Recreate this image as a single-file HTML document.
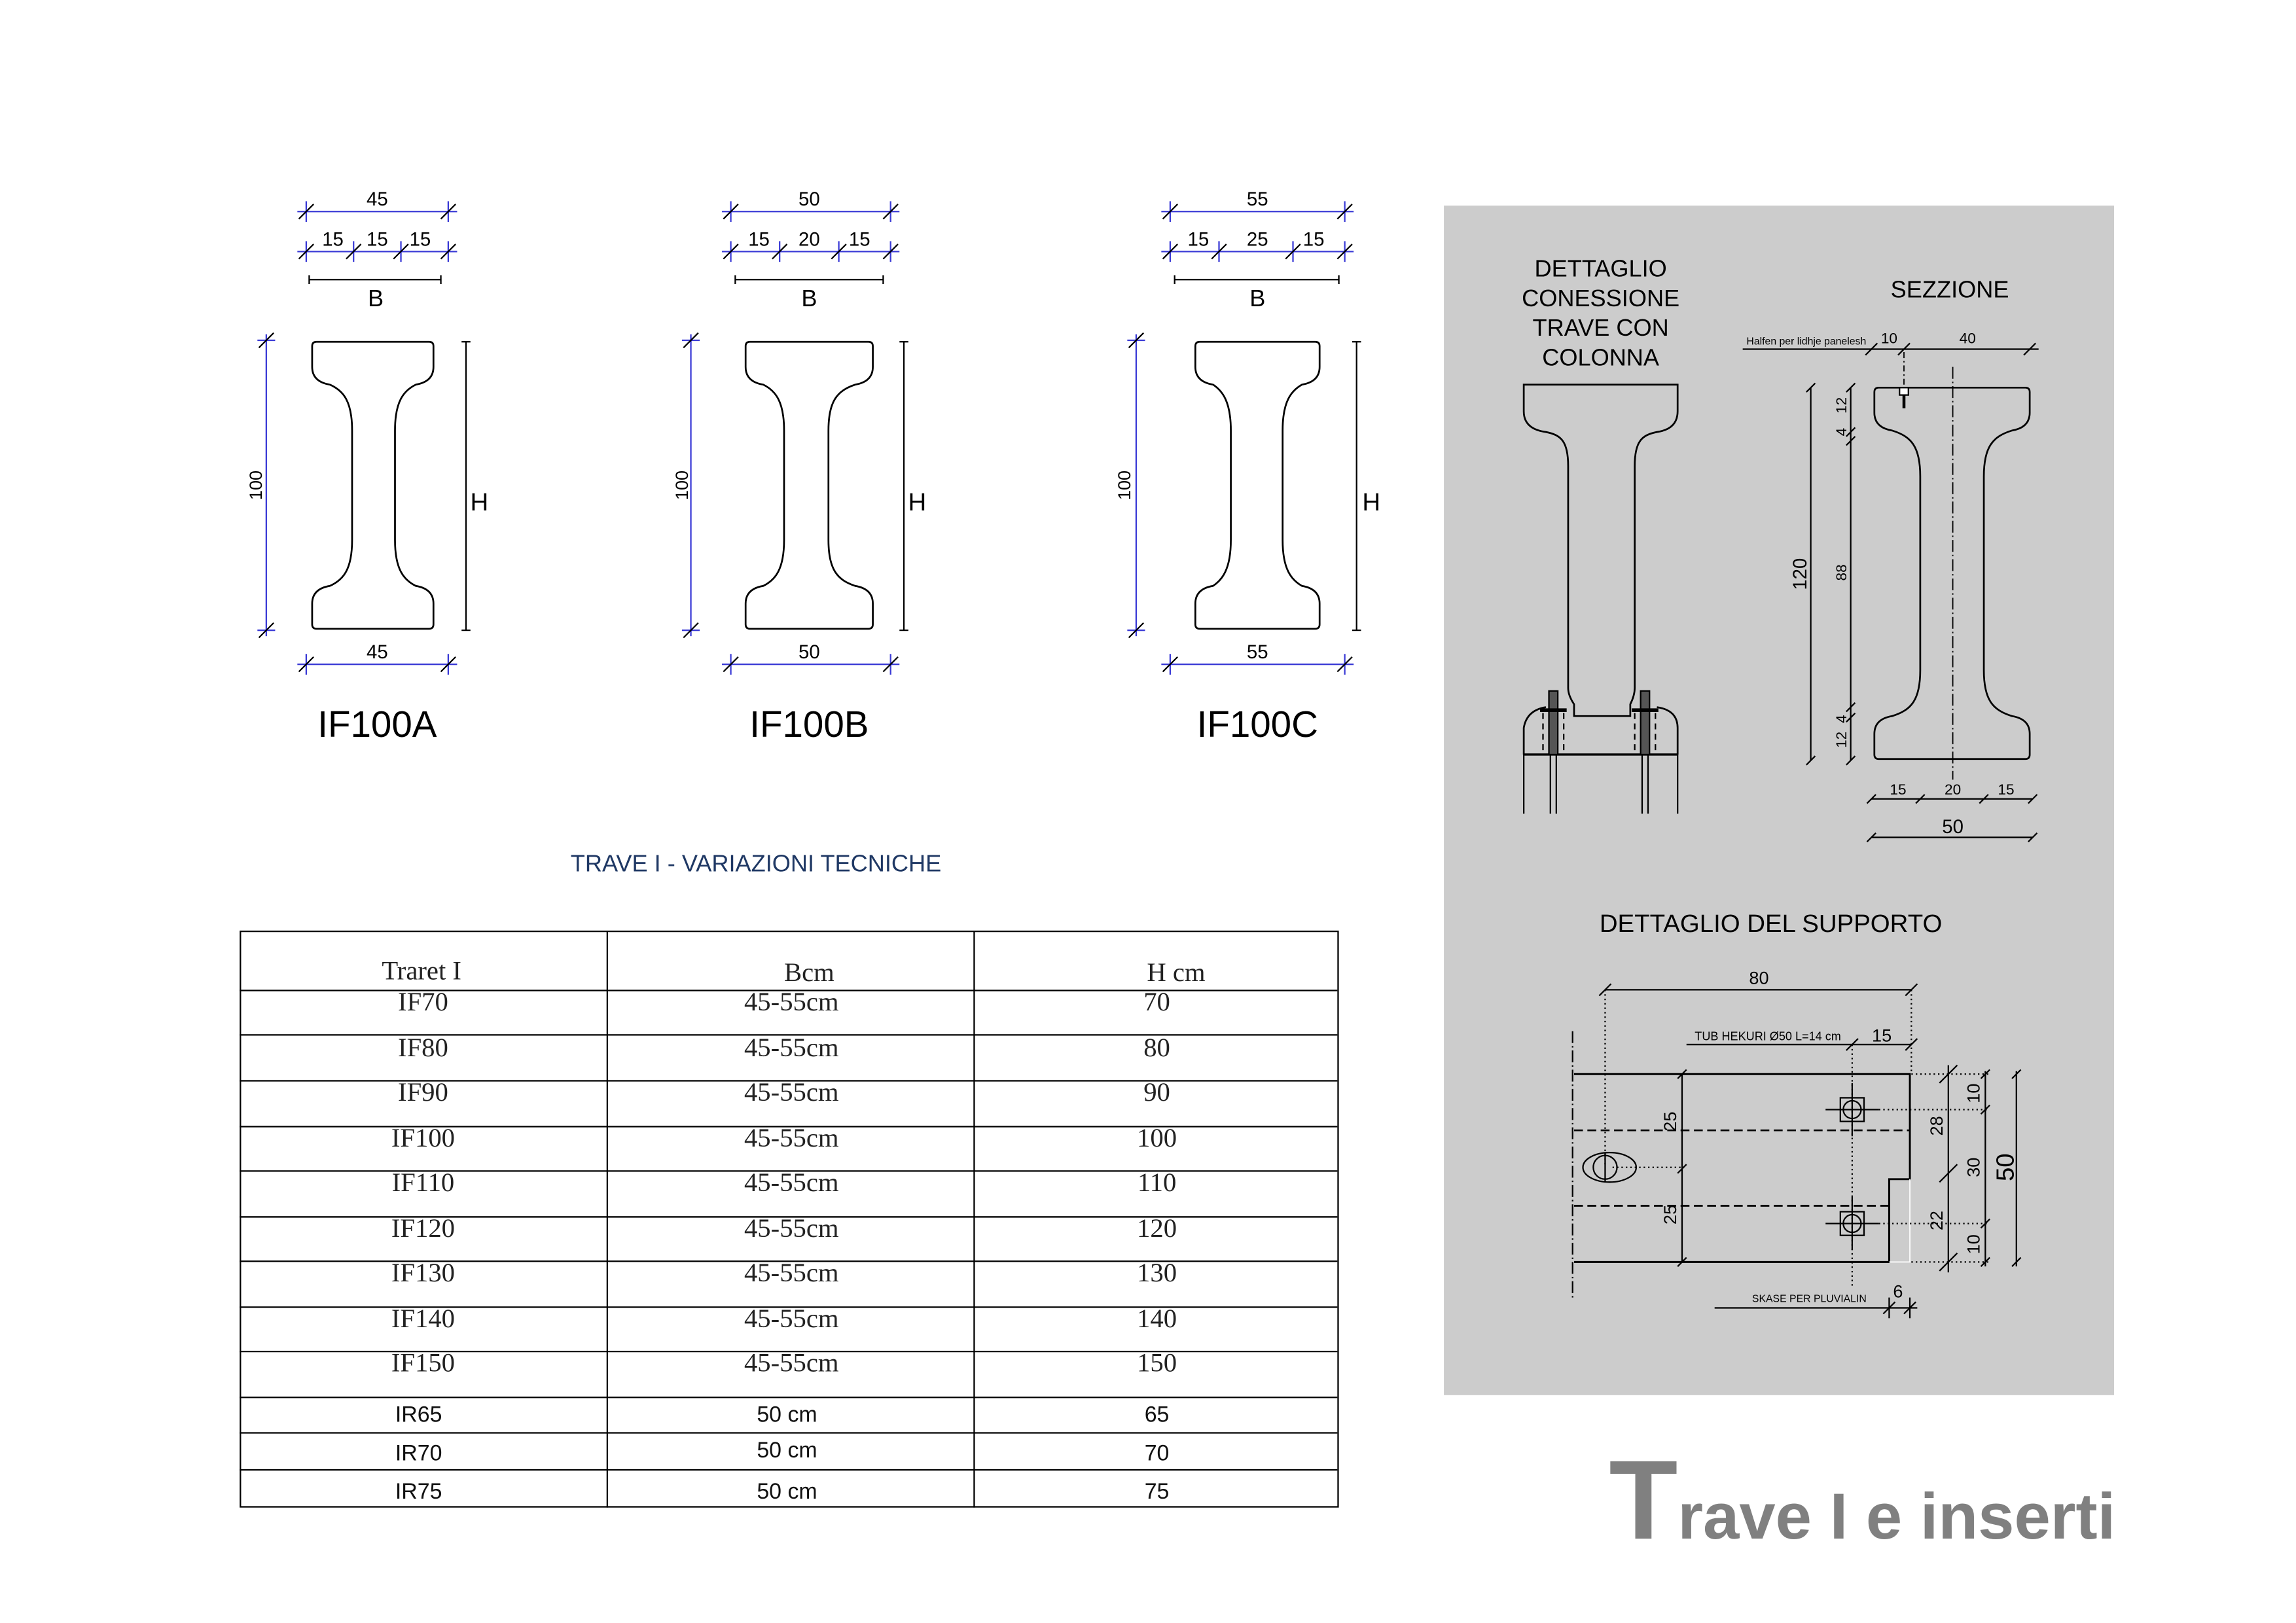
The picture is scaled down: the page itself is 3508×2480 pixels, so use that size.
<!DOCTYPE html>
<html><head><meta charset="utf-8"><style>
html,body{margin:0;padding:0;background:#fff}
svg{display:block}
text{font-family:"Liberation Sans",Arial,sans-serif}
.s text{font-family:"Liberation Serif",serif}
</style></head><body>
<svg id="v" width="3508" height="2480" viewBox="0 0 1552 1097" preserveAspectRatio="none" xmlns="http://www.w3.org/2000/svg">
<rect width="1552" height="1097" fill="#fff"/>
<g id="g" fill="none" stroke="#000" stroke-width="1"></g>

<g font-size="13" fill="#000" text-anchor="middle">
<text x="255" y="139">45</text><text x="225" y="166">15</text><text x="255" y="166">15</text><text x="284" y="166">15</text>
<text x="254" y="207" font-size="16">B</text>
<text x="255" y="445">45</text>
<text x="547" y="139">50</text><text x="513" y="166">15</text><text x="547" y="166">20</text><text x="581" y="166">15</text>
<text x="547" y="207" font-size="16">B</text>
<text x="547" y="445">50</text>
<text x="850" y="139">55</text><text x="810" y="166">15</text><text x="850" y="166">25</text><text x="888" y="166">15</text>
<text x="850" y="207" font-size="16">B</text>
<text x="850" y="445">55</text>
<text transform="translate(177,328) rotate(-90)" font-size="12">100</text>
<text transform="translate(465,328) rotate(-90)" font-size="12">100</text>
<text transform="translate(764,328) rotate(-90)" font-size="12">100</text>
<text x="324" y="345" font-size="17">H</text>
<text x="620" y="345" font-size="17">H</text>
<text x="927" y="345" font-size="17">H</text>
<text x="255" y="498" font-size="25">IF100A</text>
<text x="547" y="498" font-size="25">IF100B</text>
<text x="850" y="498" font-size="25">IF100C</text>
</g>
<text x="511" y="589" font-size="16" fill="#1f3864" text-anchor="middle">TRAVE I - VARIAZIONI TECNICHE</text>

<g stroke="#000" stroke-width="1">
<rect x="162.5" y="629.5" width="742" height="389" fill="none"/>
<line x1="410.5" y1="629" x2="410.5" y2="1019"/><line x1="658.5" y1="629" x2="658.5" y2="1019"/>
<line x1="162" y1="669.5" x2="904" y2="669.5"/><line x1="162" y1="699.5" x2="904" y2="699.5"/>
<line x1="162" y1="730.5" x2="904" y2="730.5"/><line x1="162" y1="761.5" x2="904" y2="761.5"/>
<line x1="162" y1="791.5" x2="904" y2="791.5"/><line x1="162" y1="822.5" x2="904" y2="822.5"/>
<line x1="162" y1="852.5" x2="904" y2="852.5"/><line x1="162" y1="883.5" x2="904" y2="883.5"/>
<line x1="162" y1="913.5" x2="904" y2="913.5"/><line x1="162" y1="944.5" x2="904" y2="944.5"/>
<line x1="162" y1="968.5" x2="904" y2="968.5"/><line x1="162" y1="993.5" x2="904" y2="993.5"/>
</g>
<g class="s" font-size="18" fill="#222" text-anchor="middle">
<text x="285" y="662">Traret I</text><text x="547" y="663">Bcm</text><text x="795" y="663">H cm</text>
<text x="286" y="683">IF70</text><text x="535" y="683">45-55cm</text><text x="782" y="683">70</text>
<text x="286" y="714">IF80</text><text x="535" y="714">45-55cm</text><text x="782" y="714">80</text>
<text x="286" y="744">IF90</text><text x="535" y="744">45-55cm</text><text x="782" y="744">90</text>
<text x="286" y="775">IF100</text><text x="535" y="775">45-55cm</text><text x="782" y="775">100</text>
<text x="286" y="805">IF110</text><text x="535" y="805">45-55cm</text><text x="782" y="805">110</text>
<text x="286" y="836">IF120</text><text x="535" y="836">45-55cm</text><text x="782" y="836">120</text>
<text x="286" y="866">IF130</text><text x="535" y="866">45-55cm</text><text x="782" y="866">130</text>
<text x="286" y="897">IF140</text><text x="535" y="897">45-55cm</text><text x="782" y="897">140</text>
<text x="286" y="927">IF150</text><text x="535" y="927">45-55cm</text><text x="782" y="927">150</text>
</g>
<g font-size="15" fill="#111" text-anchor="middle">
<text x="283" y="961">IR65</text><text x="532" y="961">50 cm</text><text x="782" y="961">65</text>
<text x="283" y="987">IR70</text><text x="532" y="985">50 cm</text><text x="782" y="987">70</text>
<text x="283" y="1013">IR75</text><text x="532" y="1013">50 cm</text><text x="782" y="1013">75</text>
</g>

<rect x="976" y="139" width="453" height="804" fill="#cccccc"/>
<g id="g2" fill="none" stroke="#000" stroke-width="1"></g>
<g font-size="16" fill="#000" text-anchor="middle">
<text x="1082" y="187">DETTAGLIO</text><text x="1082" y="207">CONESSIONE</text>
<text x="1082" y="227">TRAVE CON</text><text x="1082" y="247">COLONNA</text>
<text x="1318" y="201">SEZZIONE</text>
<text x="1197" y="630" font-size="17">DETTAGLIO DEL SUPPORTO</text>
</g>
<g fill="#000" text-anchor="middle" font-size="10">
<text x="1221" y="233" font-size="7">Halfen per lidhje panelesh</text>
<text x="1277" y="232">10</text><text x="1330" y="232">40</text>
<text transform="translate(1221,388) rotate(-90)" font-size="13">120</text>
<text transform="translate(1248,274) rotate(-90)">12</text>
<text transform="translate(1248,292) rotate(-90)">4</text>
<text transform="translate(1248,387) rotate(-90)">88</text>
<text transform="translate(1248,486) rotate(-90)">4</text>
<text transform="translate(1248,500) rotate(-90)">12</text>
<text x="1283" y="537">15</text><text x="1320" y="537">20</text><text x="1356" y="537">15</text>
<text x="1320" y="563" font-size="13">50</text>
<text x="1189" y="665" font-size="12">80</text>
<text x="1195" y="703" font-size="8">TUB HEKURI Ø50 L=14 cm</text>
<text x="1272" y="704" font-size="12">15</text>
<text transform="translate(1133,758) rotate(-90)" font-size="12">25</text>
<text transform="translate(1133,821) rotate(-90)" font-size="12">25</text>
<text transform="translate(1313,761) rotate(-90)" font-size="12">28</text>
<text transform="translate(1313,825) rotate(-90)" font-size="12">22</text>
<text transform="translate(1338,739) rotate(-90)" font-size="12">10</text>
<text transform="translate(1338,789) rotate(-90)" font-size="12">30</text>
<text transform="translate(1338,841) rotate(-90)" font-size="12">10</text>
<text transform="translate(1361,789) rotate(-90)" font-size="17">50</text>
<text x="1223" y="880" font-size="7">SKASE PER PLUVIALIN</text>
<text x="1283" y="877" font-size="12">6</text>
</g>
<text x="1430" y="1040" text-anchor="end" fill="#808080" font-weight="bold" font-size="44"><tspan font-size="76">T</tspan>rave I e inserti</text>

<script>
var NS="http://www.w3.org/2000/svg";
function el(p,t,a){var e=document.createElementNS(NS,t);for(var k in a)e.setAttribute(k,a[k]);document.getElementById(p).appendChild(e);return e;}
function L(p,x1,y1,x2,y2,o){var a={x1:x1,y1:y1,x2:x2,y2:y2};for(var k in o)a[k]=o[k];return el(p,'line',a);}
function P(p,d,o){var a={d:d};for(var k in o)a[k]=o[k];return el(p,'path',a);}
function tick(p,x,y,s){s=s||5;L(p,x-s,y+s,x+s,y-s,{});}
function hdim(p,x1,x2,y,ticks,col){L(p,x1-6,y,x2+6,y,{stroke:col||'#000'});ticks.forEach(function(t){if(col)L(p,t,y-7,t,y+7,{stroke:col});tick(p,t,y);});}
function vdim(p,x,y1,y2,ticks,col){L(p,x,y1-4,x,y2+4,{stroke:col||'#000'});ticks.forEach(function(t){if(col)L(p,x-6,t,x+6,t,{stroke:col});tick(p,x,t);});}
function beam(p,xl,xr,yt,yb,wl,wr){
 var d='M'+(xl+3)+','+yt+' H'+(xr-3)+' Q'+xr+','+yt+' '+xr+','+(yt+3)+' V'+(yt+17)+
 ' Q'+xr+','+(yt+27)+' '+(xr-12)+','+(yt+29)+' C'+(wr+6)+','+(yt+33)+' '+wr+','+(yt+40)+' '+wr+','+(yt+60)+
 ' V'+(yb-60)+' C'+wr+','+(yb-40)+' '+(wr+6)+','+(yb-33)+' '+(xr-12)+','+(yb-29)+' Q'+xr+','+(yb-27)+' '+xr+','+(yb-17)+
 ' V'+(yb-3)+' Q'+xr+','+yb+' '+(xr-3)+','+yb+' H'+(xl+3)+' Q'+xl+','+yb+' '+xl+','+(yb-3)+' V'+(yb-17)+
 ' Q'+xl+','+(yb-27)+' '+(xl+12)+','+(yb-29)+' C'+(wl-6)+','+(yb-33)+' '+wl+','+(yb-40)+' '+wl+','+(yb-60)+
 ' V'+(yt+60)+' C'+wl+','+(yt+40)+' '+(wl-6)+','+(yt+33)+' '+(xl+12)+','+(yt+29)+' Q'+xl+','+(yt+27)+' '+xl+','+(yt+17)+
 ' V'+(yt+3)+' Q'+xl+','+yt+' '+(xl+3)+','+yt+' Z';
 return P(p,d,{'stroke-width':1.2});
}
var B='#3b3bd6';
hdim('g',207,303,143,[207,303],B);hdim('g',207,303,170,[207,239,271,303],B);
L('g',209,189,298,189,{});L('g',209,186,209,192,{});L('g',298,186,298,192,{});
vdim('g',180,230,426,[230,426],B);beam('g',211,293,231,425,238,267);
L('g',315,231,315,426,{});L('g',312,231,318,231,{});L('g',312,426,318,426,{});
hdim('g',207,303,449,[207,303],B);
hdim('g',494,602,143,[494,602],B);hdim('g',494,602,170,[494,527,567,602],B);
L('g',497,189,597,189,{});L('g',497,186,497,192,{});L('g',597,186,597,192,{});
vdim('g',467,230,426,[230,426],B);beam('g',504,590,231,425,530,560);
L('g',611,231,611,426,{});L('g',608,231,614,231,{});L('g',608,426,614,426,{});
hdim('g',494,602,449,[494,602],B);
hdim('g',791,909,143,[791,909],B);hdim('g',791,909,170,[791,824,874,909],B);
L('g',794,189,905,189,{});L('g',794,186,794,192,{});L('g',905,186,905,192,{});
vdim('g',768,230,426,[230,426],B);beam('g',808,892,231,425,832,867);
L('g',917,231,917,426,{});L('g',914,231,920,231,{});L('g',914,426,920,426,{});
hdim('g',791,909,449,[791,909],B);
P('g2','M1030,260 H1134 V278 Q1134,290 1120,292 C1110,294 1105,298 1105,315 V465 Q1105,470 1102,476 V484 H1064 V476 Q1060,470 1060,465 V315 C1060,298 1055,294 1045,292 Q1030,290 1030,278 Z',{'stroke-width':1.2});
P('g2','M1030,510 V492 Q1032,480 1045,478 M1120,478 Q1134,480 1134,492 V510',{'stroke-width':1.2});
L('g2',1030,510,1134,510,{'stroke-width':1.5});
L('g2',1030,510,1030,550,{});L('g2',1134,510,1134,550,{});
[1050,1112].forEach(function(x){
 el('g2','rect',{x:x-3,y:467,width:6,height:43,fill:'#555'});
 L('g2',x-9,480,x+9,480,{'stroke-width':2.5});
 L('g2',x-2,510,x-2,550,{});L('g2',x+2,510,x+2,550,{});
 L('g2',x-7,482,x-7,510,{'stroke-dasharray':'4,3'});L('g2',x+7,482,x+7,510,{'stroke-dasharray':'4,3'});
});
beam('g2',1267,1372,262,513,1298,1341);
L('g2',1320,248,1320,527,{'stroke-dasharray':'8,2,1,2','stroke-width':0.8});
L('g2',1178,236,1378,236,{});[1265,1287,1372].forEach(function(x){tick('g2',x,236,4);});
L('g2',1287,238,1287,272,{'stroke-dasharray':'4,2,1,2','stroke-width':0.8});
el('g2','rect',{x:1284,y:262,width:6,height:5,fill:'#fff',stroke:'#000'});L('g2',1287,267,1287,276,{'stroke-width':2});
L('g2',1224,262,1224,514,{});tick('g2',1224,262,3);tick('g2',1224,514,3);
L('g2',1251,262,1251,514,{});[262,292,298,478,485,514].forEach(function(y){tick('g2',1251,y,3);});
L('g2',1265,540,1374,540,{});[1265,1298,1341,1374].forEach(function(x){tick('g2',x,540,3);});
L('g2',1265,566,1374,566,{});tick('g2',1265,566,3);tick('g2',1374,566,3);
var dot={'stroke-dasharray':'1,2'};
L('g2',1085,669,1292,669,{});tick('g2',1085,669,4);tick('g2',1292,669,4);
L('g2',1085,669,1085,789,dot);L('g2',1292,669,1292,726,dot);
L('g2',1140,706,1292,706,{});tick('g2',1252,706,4);tick('g2',1292,706,4);
L('g2',1252,706,1252,870,dot);
L('g2',1063,697,1063,878,{'stroke-dasharray':'8,2,1,2'});
P('g2','M1064,726 H1291 V797 H1277 V853 H1064',{'stroke-width':1.3});
P('g2','M1291,797 V853 H1277',{stroke:'#fff','stroke-width':0.8});
L('g2',1064,764,1291,764,{'stroke-dasharray':'6,3','stroke-width':1.2});
L('g2',1064,815,1277,815,{'stroke-dasharray':'6,3','stroke-width':1.2});
L('g2',1137,726,1137,853,{});[726,790,853].forEach(function(y){tick('g2',1137,y,3);});
el('g2','ellipse',{cx:1088,cy:789,rx:18,ry:10});el('g2','circle',{cx:1085,cy:789,r:8});
L('g2',1085,779,1085,799,{});L('g2',1090,789,1137,789,dot);
[750,827].forEach(function(y){el('g2','rect',{x:1244,y:y-8,width:16,height:16});el('g2','circle',{cx:1252,cy:y,r:6});
 L('g2',1234,y,1270,y,{});L('g2',1252,y-18,1252,y+18,{});L('g2',1270,y,1345,y,dot);});
L('g2',1292,726,1345,726,dot);L('g2',1292,853,1345,853,dot);
L('g2',1317,720,1317,860,{});[726,793,853].forEach(function(y){tick('g2',1317,y,6);});
L('g2',1342,724,1342,856,{});[726,750,827,853].forEach(function(y){tick('g2',1342,y,3);});
L('g2',1363,724,1363,856,{});[726,853].forEach(function(y){tick('g2',1363,y,3);});
L('g2',1159,884,1296,884,{});tick('g2',1277,884,4);tick('g2',1291,884,4);
L('g2',1277,877,1277,891,{});L('g2',1291,877,1291,891,{});
</script>
</svg>
</body></html>
